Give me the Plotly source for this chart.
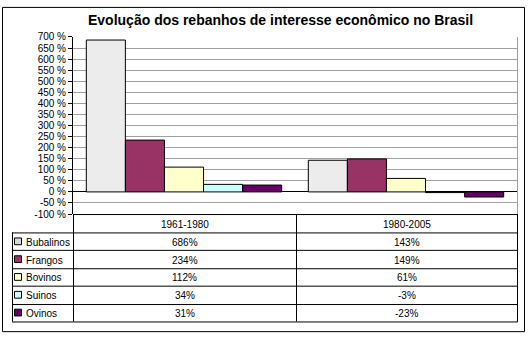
import plotly.graph_objects as go

# ---- data ----
series = ["Bubalinos", "Frangos", "Bovinos", "Suinos", "Ovinos"]
periods = ["1961-1980", "1980-2005"]
values_1961_1980 = [686, 234, 112, 34, 31]
values_1980_2005 = [143, 149, 61, -3, -23]
colors = ["#FFFFFF", "#993366", "#FFFFCC", "#CCFFFF", "#660066"]
y_ticks = list(range(-100, 701, 50))
y_tick_labels = [f"{v} %" for v in y_ticks]
title_text = "Evolução dos rebanhos de interesse econômico no Brasil"

W, H = 528, 342
FONT = "Liberation Sans, Arial, sans-serif"


def px(x):
    return x / W


def py(y):
    return 1 - y / H


# plot area in pixels
L, R, T, B = 73, 517, 33, 216
MID = 296

fig = go.Figure()
for i, name in enumerate(series):
    vals = [values_1961_1980[i], values_1980_2005[i]]
    marker = dict(color=colors[i], line=dict(color="black", width=1))
    if i == 0:
        marker["pattern"] = dict(shape=".", fgcolor="#a6a6a6", bgcolor="white",
                                 size=2, solidity=0.5)
    fig.add_trace(go.Bar(x=periods, y=vals, name=name, marker=marker,
                         showlegend=False, hoverinfo="skip"))

shapes = []


def line(x0, y0, x1, y1, color="black", width=1):
    shapes.append(dict(type="line", xref="paper", yref="paper",
                       x0=px(x0), y0=py(y0), x1=px(x1), y1=py(y1),
                       line=dict(color=color, width=width), layer="above"))


# outer frame
shapes.append(dict(type="rect", xref="paper", yref="paper",
                   x0=px(2.5), y0=py(337.5), x1=px(524.5), y1=py(2.5),
                   line=dict(color="black", width=1), layer="above"))
# plot right border (gray)
line(R + 0.5, T, R + 0.5, B, color="#a0a0a0")

# table geometry
row_top = 235
row_h = (327 - 235) / 5
rows_y = [row_top + k * row_h for k in range(6)]
KEY_L = 12
TFONT = dict(family=FONT, size=10, color="black")

# table lines
line(L, B + 0.5, R + 0.5, B + 0.5)            # table top / -100 line
line(L + 0.5, B, L + 0.5, rows_y[-1])       # left column divider
line(MID + 0.5, B, MID + 0.5, rows_y[-1])   # middle divider
line(R + 0.5, B, R + 0.5, rows_y[-1] + 0.5)  # right border
line(KEY_L + 0.5, rows_y[0], KEY_L + 0.5, rows_y[-1])  # key column left
for yy in rows_y:
    line(KEY_L, round(yy) + 0.5, R + 0.5, round(yy) + 0.5)

annotations = []
# title
annotations.append(dict(text=f"<b>{title_text}</b>", xref="paper", yref="paper",
                        x=px(280), y=py(15), showarrow=False,
                        xanchor="center", yanchor="middle",
                        font=dict(family=FONT, size=14, color="black")))
# header
for j, p in enumerate(periods):
    cx = (L + MID) / 2 if j == 0 else (MID + R) / 2
    annotations.append(dict(text=p, xref="paper", yref="paper", x=px(cx),
                            y=py((B + row_top) / 2 + 1), showarrow=False,
                            xanchor="center", yanchor="middle", font=TFONT))

for i, name in enumerate(series):
    cy = (rows_y[i] + rows_y[i + 1]) / 2 + 1
    # key square
    kc = "#d9d9d9" if i == 0 else colors[i]
    shapes.append(dict(type="rect", xref="paper", yref="paper",
                       x0=px(14.5), x1=px(21.5), y0=py(cy + 2.5), y1=py(cy - 4.5),
                       fillcolor=kc, line=dict(color="black", width=1),
                       layer="above"))
    annotations.append(dict(text=name, xref="paper", yref="paper", x=px(23.5),
                            y=py(cy), showarrow=False, xanchor="left",
                            yanchor="middle", font=TFONT))
    for j, vals in enumerate([values_1961_1980, values_1980_2005]):
        cx = (L + MID) / 2 if j == 0 else (MID + R) / 2
        annotations.append(dict(text=f"{vals[i]}%", xref="paper", yref="paper",
                                x=px(cx), y=py(cy), showarrow=False,
                                xanchor="center", yanchor="middle", font=TFONT))

fig.update_layout(
    width=W, height=H,
    margin=dict(l=0, r=0, t=0, b=0),
    paper_bgcolor="white", plot_bgcolor="white",
    barmode="group", bargap=0.12, bargroupgap=0,
    xaxis=dict(domain=[px(L), px(R)], range=[-0.5, 1.5], showticklabels=False,
               showgrid=False, zeroline=False, showline=False, fixedrange=True),
    yaxis=dict(domain=[py(B), py(T)], range=[-100, 700], tickmode="array",
               tickvals=y_ticks, ticktext=y_tick_labels,
               showgrid=True, gridcolor="#a0a0a0", gridwidth=1,
               zeroline=True, zerolinecolor="black", zerolinewidth=1,
               showline=True, linecolor="black", linewidth=1,
               ticks="outside", ticklen=4, tickcolor="black",
               tickfont=dict(family=FONT, size=10, color="black"),
               fixedrange=True),
    shapes=shapes, annotations=annotations,
)

fig.write_html("out.html")
